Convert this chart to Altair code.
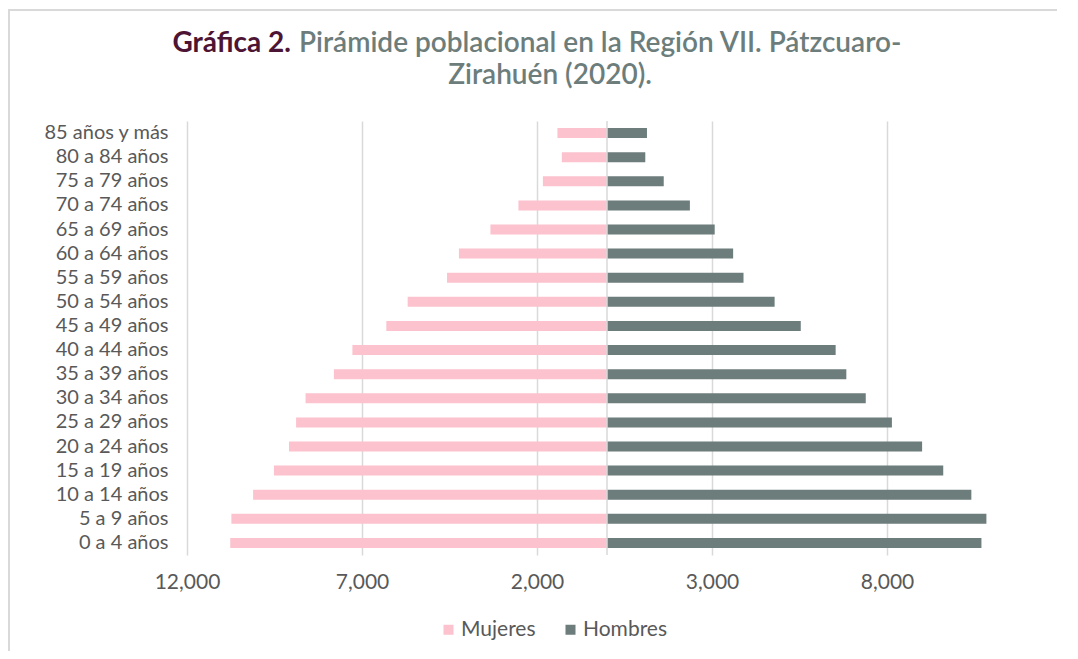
import altair as alt
import pandas as pd

ages = ["85 años y más", "80 a 84 años", "75 a 79 años", "70 a 74 años", "65 a 69 años",
        "60 a 64 años", "55 a 59 años", "50 a 54 años", "45 a 49 años", "40 a 44 años",
        "35 a 39 años", "30 a 34 años", "25 a 29 años", "20 a 24 años", "15 a 19 años",
        "10 a 14 años", "5 a 9 años", "0 a 4 años"]
mujeres = [1416, 1291, 1832, 2530, 3330, 4231, 4570, 5695, 6305, 7274,
           7803, 8613, 8883, 9085, 9516, 10111, 10732, 10764]
hombres = [1142, 1094, 1621, 2368, 3077, 3604, 3900, 4789, 5536, 6533,
           6838, 7393, 8140, 9003, 9607, 10410, 10840, 10698]
tick_values = [-12000, -7000, -2000, 3000, 8000]
series = ["Mujeres", "Hombres"]
colors = ["#FCC2CD", "#6C7D7B"]

rows = []
for a, m, h in zip(ages, mujeres, hombres):
    rows.append({"edad": a, "sexo": "Mujeres", "valor": -m})
    rows.append({"edad": a, "sexo": "Hombres", "valor": h})
df = pd.DataFrame(rows)

FONT = "Lato"
W, H = 840, 434

bars = alt.Chart(df).mark_bar(size=10).encode(
    x=alt.X("valor:Q",
            scale=alt.Scale(domain=[-12000, 12000], nice=False, zero=False),
            axis=alt.Axis(values=tick_values, title=None, grid=True,
                          gridColor="#D9D9D9", gridWidth=1.5, domain=False, ticks=False,
                          labelExpr="format(abs(datum.value), ',')",
                          labelFontSize=21, labelColor="#595959", labelFont=FONT,
                          labelPadding=16, labelFlush=False)),
    y=alt.Y("edad:N", sort=ages, scale=alt.Scale(paddingInner=0.0, paddingOuter=0.0),
            axis=alt.Axis(title=None, domain=False, ticks=False, labelFontSize=20,
                          labelColor="#595959", labelFont=FONT, labelPadding=19)),
    color=alt.Color("sexo:N", scale=alt.Scale(domain=series, range=colors),
                    legend=alt.Legend(title=None, orient="none", direction="horizontal",
                                      legendX=251, legendY=498, symbolType="square",
                                      symbolSize=100, symbolStrokeWidth=0,
                                      labelFontSize=21, labelColor="#595959",
                                      labelFont=FONT, labelOffset=2, columnPadding=24,
                                      padding=0)),
)

zero = alt.Chart(pd.DataFrame({"z": [0]})).mark_rule(color="#D9D9D9", strokeWidth=1.5).encode(
    x=alt.X("z:Q"))

one = pd.DataFrame({"a": [0]})
border_top = alt.Chart(one).mark_rule(stroke="#D9D9D9", strokeWidth=2).encode(
    x=alt.value(-178), x2=alt.value(870), y=alt.value(-111))
border_left = alt.Chart(one).mark_rule(stroke="#D9D9D9", strokeWidth=2).encode(
    x=alt.value(-178), y=alt.value(-112), y2=alt.value(560))

t1a = alt.Chart(one).mark_text(text="Gráfica 2.", font=FONT, fontSize=28, fontWeight="bold",
                               color="#4D1434", align="right", baseline="middle").encode(
    x=alt.value(104), y=alt.value(-77))
t1b = alt.Chart(one).mark_text(text="Pirámide poblacional  en la Región VII. Pátzcuaro-",
                               font=FONT, fontSize=28, fontWeight=600, color="#6C7D7B",
                               align="left", baseline="middle").encode(
    x=alt.value(112), y=alt.value(-77))
t2 = alt.Chart(one).mark_text(text="Zirahuén  (2020).", font=FONT, fontSize=28, fontWeight=600,
                              color="#6C7D7B", align="center", baseline="middle").encode(
    x=alt.value(363), y=alt.value(-45))

chart = alt.layer(border_top, border_left, bars, zero, t1a, t1b, t2).properties(
    width=W, height=H,
    background="white",
    autosize=alt.AutoSizeParams(type="none"),
    padding={"left": 179, "top": 113, "right": 30, "bottom": 96},
).configure_view(strokeWidth=0, stroke=None)

chart.save("out.html", embed_options={"renderer": "svg", "actions": False})
